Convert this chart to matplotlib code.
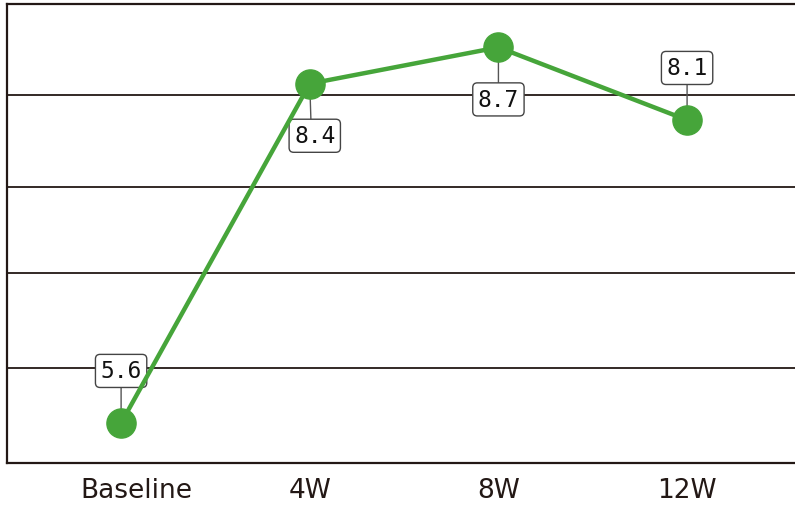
import matplotlib
matplotlib.use('Agg')
import matplotlib.pyplot as plt
from matplotlib.transforms import ScaledTranslation

# data
timepoints = ['Baseline', '4W', '8W', '12W']
scores = [5.6, 8.4, 8.7, 8.1]
label_side = [1, -1, -1, 1]      # 1 = label above point, -1 = below
grid_values = [8.31, 7.55, 6.84, 6.05]

fig = plt.figure(figsize=(7.95, 5.06), dpi=100)
ax = fig.add_axes([0.009, 0.083, 0.991, 0.907])

green = '#46a53a'
dark = '#231815'

x = list(range(len(timepoints)))
for g in grid_values:
    ax.axhline(g, color=dark, lw=1.3, zorder=1)

ax.plot(x, scores, color=green, lw=3.2, zorder=4)
ax.plot(x, scores, 'o', color=green, ms=21, zorder=5)

dx = [0, 3.6, 0, 0]
relx = [0.5, 0.41, 0.5, 0.5]
for i, (v, s) in enumerate(zip(scores, label_side)):
    ax.annotate(f'{v:.1f}', xy=(i, v), xytext=(dx[i], 37.5 * s),
                textcoords='offset points', ha='center', va='center',
                fontsize=16.5, family='DejaVu Sans Mono', color='#111111',
                zorder=3,
                bbox=dict(boxstyle='round,pad=0.22,rounding_size=0.2',
                          fc='white', ec='#444444', lw=1),
                arrowprops=dict(arrowstyle='-', color='#555555', lw=1,
                                shrinkA=0, shrinkB=0,
                                relpos=(relx[i], 0 if s > 0 else 1)))

ax.set_xlim(-0.604, 3.572)
ax.set_ylim(5.27, 9.057)
ax.set_xticks(x)
ax.set_xticklabels(timepoints, fontsize=19, color='#231815')
ax.tick_params(axis='x', length=0, pad=10)
# first label sits a little right of its point in the original
lab0 = ax.get_xticklabels()[0]
lab0.set_transform(lab0.get_transform() + ScaledTranslation(0.15, 0, fig.dpi_scale_trans))
ax.set_yticks([])
for side in ['left', 'top', 'bottom']:
    ax.spines[side].set_color(dark)
    ax.spines[side].set_linewidth(1.6)
ax.spines['right'].set_visible(False)

fig.savefig('out.png', dpi=100)
